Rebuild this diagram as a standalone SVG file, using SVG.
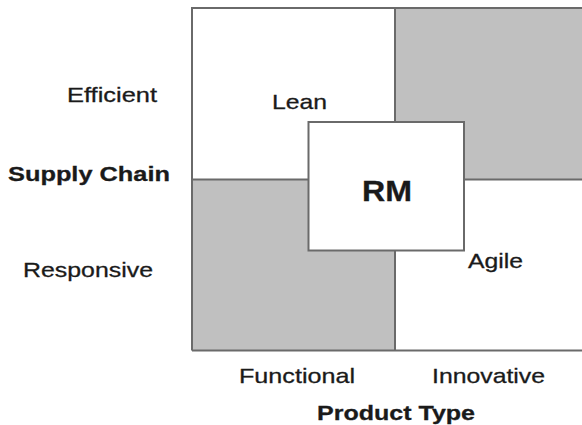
<svg xmlns="http://www.w3.org/2000/svg" width="582" height="425" viewBox="0 0 582 425">
<style>
.q{stroke:#6a6a6a;stroke-width:2}
.g{fill:#c0c0c0}
.w{fill:#ffffff}
.ln{stroke:#6a6a6a;stroke-width:2;fill:none}
.t{font-family:"Liberation Sans",Arial,sans-serif;font-size:21px;fill:#1a1a1a;stroke:#1a1a1a;stroke-width:0.3}
.b{font-weight:bold}
</style>
<rect x="0" y="0" width="582" height="425" fill="#ffffff"/>
<g id="quadrant-lean"><rect class="w" x="192" y="8" width="203" height="172"/></g>
<g id="quadrant-top-right"><rect class="g" x="395" y="8" width="187" height="172"/></g>
<g id="quadrant-bottom-left"><rect class="g" x="192" y="180" width="203" height="170.5"/></g>
<g id="quadrant-agile"><rect class="w" x="395" y="180" width="187" height="170.5"/></g>
<g id="connectors">
<path class="ln" d="M192,350.5 V8 H583"/>
<path class="ln" d="M192,350.5 H583"/>
<path class="ln" d="M192,179.5 H583"/>
<path class="ln" d="M395,8 V350.5"/>
</g>
<g id="rm">
<rect class="w q" x="308.5" y="122" width="155.5" height="128.5"/>
<text class="t b" x="362" y="201" style="font-size:29px" textLength="50" lengthAdjust="spacingAndGlyphs">RM</text>
</g>
<g id="labels">
<text class="t" x="272" y="109" textLength="55" lengthAdjust="spacingAndGlyphs">Lean</text>
<text class="t" x="468" y="268" textLength="55" lengthAdjust="spacingAndGlyphs">Agile</text>
<text class="t" x="67" y="102" textLength="90" lengthAdjust="spacingAndGlyphs">Efficient</text>
<text class="t b" x="8" y="181" textLength="162" lengthAdjust="spacingAndGlyphs">Supply Chain</text>
<text class="t" x="23" y="277" textLength="130" lengthAdjust="spacingAndGlyphs">Responsive</text>
<text class="t" x="239" y="383" textLength="116" lengthAdjust="spacingAndGlyphs">Functional</text>
<text class="t" x="432" y="383" textLength="113" lengthAdjust="spacingAndGlyphs">Innovative</text>
<text class="t b" x="317" y="420" textLength="158" lengthAdjust="spacingAndGlyphs">Product Type</text>
</g>
</svg>
